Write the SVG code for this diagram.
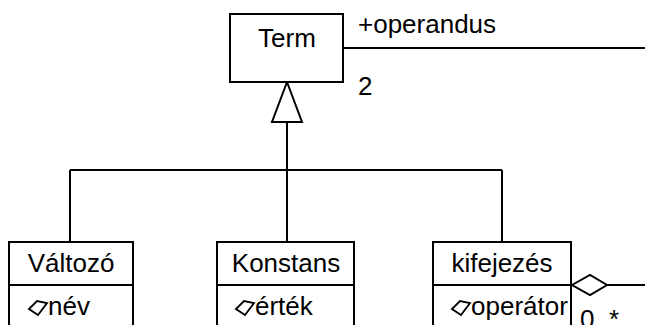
<svg xmlns="http://www.w3.org/2000/svg" width="645" height="325" viewBox="0 0 645 325">
<style>
.box{fill:#fff;stroke:#000;stroke-width:2}
.ln{fill:none;stroke:#000;stroke-width:2}
.t{font-family:"Liberation Sans",Arial,sans-serif;font-size:26px;fill:#000}
.c{text-anchor:middle}
.ic{fill:#fff;stroke:#000;stroke-width:1.8;stroke-linejoin:miter}
</style>
<defs>
<polygon id="attr" class="ic" points="0,9 8,1 18,3 9,15"/>
</defs>
<rect width="645" height="325" fill="#fff"/>
<g id="connectors">
<line class="ln" x1="343" y1="48" x2="645" y2="48"/>
<line class="ln" x1="287" y1="122" x2="287" y2="170"/>
<line class="ln" x1="70" y1="170" x2="502" y2="170"/>
<line class="ln" x1="70" y1="170" x2="70" y2="242"/>
<line class="ln" x1="287" y1="170" x2="287" y2="242"/>
<line class="ln" x1="502" y1="170" x2="502" y2="242"/>
<polygon class="box" points="287,82 272,122 302,122"/>
<line class="ln" x1="607" y1="285" x2="645" y2="285"/>
<polygon class="box" points="572,285 590,275 607,285 590,295"/>
<text class="t" x="358" y="33">+operandus</text>
<text class="t" x="358" y="95">2</text>
<text class="t" x="580" y="328">0..*</text>
</g>
<g id="Term">
<rect class="box" x="230" y="14" width="113" height="68"/>
<text class="t c" x="287" y="47">Term</text>
</g>
<g id="Valtozo">
<rect class="box" x="9" y="242" width="124" height="100"/>
<line class="ln" x1="9" y1="285" x2="133" y2="285"/>
<text class="t c" x="71" y="272">Változó</text>
<use href="#attr" x="29" y="300"/>
<text class="t" x="48" y="315">név</text>
</g>
<g id="Konstans">
<rect class="box" x="217" y="242" width="137" height="100"/>
<line class="ln" x1="217" y1="285" x2="354" y2="285"/>
<text class="t c" x="286" y="272">Konstans</text>
<use href="#attr" x="236" y="300"/>
<text class="t" x="255" y="315">érték</text>
</g>
<g id="kifejezes">
<rect class="box" x="433" y="242" width="138" height="100"/>
<line class="ln" x1="433" y1="285" x2="571" y2="285"/>
<text class="t c" x="502" y="272">kifejezés</text>
<use href="#attr" x="452" y="300"/>
<text class="t" x="471" y="315">operátor</text>
</g>
</svg>
